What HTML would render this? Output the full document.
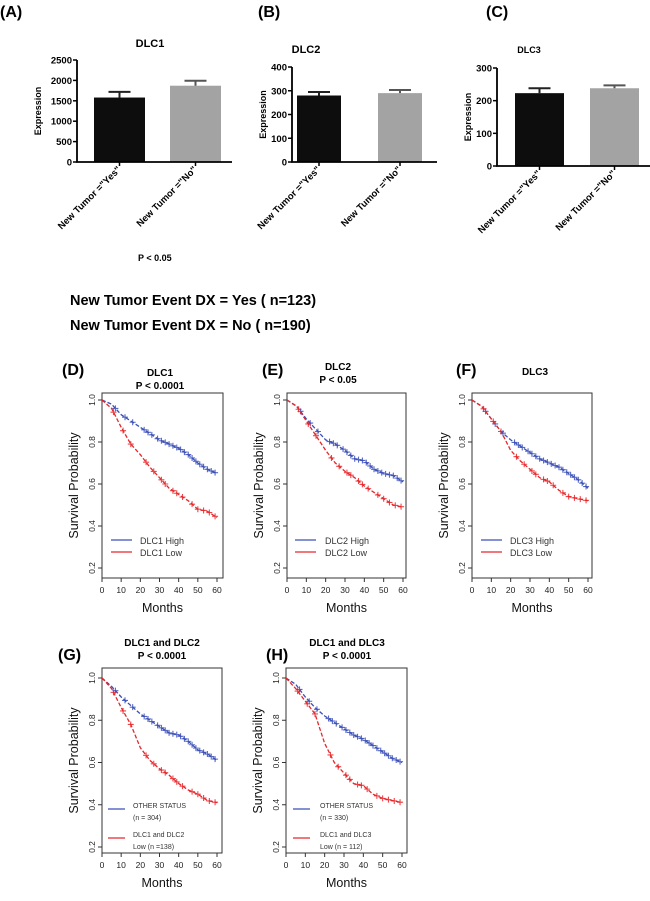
<!DOCTYPE html>
<html><head><meta charset="utf-8"><style>
body{margin:0;background:#fff}
svg{display:block;font-family:"Liberation Sans",sans-serif}
</style></head><body>
<svg id="fig" width="650" height="901" viewBox="0 0 650 901">
<g font-weight="bold" font-size="16">
<text x="0" y="17">(A)</text>
<text x="258" y="17">(B)</text>
<text x="486" y="17">(C)</text>
<text x="62" y="375">(D)</text>
<text x="262" y="375">(E)</text>
<text x="456" y="375">(F)</text>
<text x="58" y="660">(G)</text>
<text x="266" y="660">(H)</text>
</g>
<text x="138" y="261" font-size="9" font-weight="bold">P  &lt; 0.05</text>
<text x="70" y="305" font-size="14.5" font-weight="bold">New Tumor Event DX = Yes ( n=123)</text>
<text x="70" y="330" font-size="14.5" font-weight="bold">New Tumor Event DX = No  ( n=190)</text>
<g id="bars"></g><g id="km"></g>
</svg>
<script>
// Bar chart data
const barCats = ['New Tumor ="Yes"', 'New Tumor ="No"'];
const dlc1Vals = [1580, 1870];
const dlc1Errs = [140, 120];
const dlc2Vals = [280, 290];
const dlc2Errs = [15, 13];
const dlc3Vals = [223, 238];
const dlc3Errs = [15, 9];
const dlc1Ticks = [0, 500, 1000, 1500, 2000, 2500];
const dlc2Ticks = [0, 100, 200, 300, 400];
const dlc3Ticks = [0, 100, 200, 300];

// KM data (survival at months)
const kmMonths = [0,5,10,15,20,25,30,35,40,45,50,55,60];
const dHigh = [1,0.98,0.93,0.90,0.87,0.84,0.81,0.79,0.77,0.74,0.70,0.67,0.65];
const dLow  = [1,0.96,0.87,0.79,0.74,0.68,0.63,0.58,0.55,0.52,0.48,0.47,0.44];
const eHigh = [1,0.97,0.91,0.86,0.81,0.79,0.76,0.72,0.71,0.67,0.65,0.64,0.61];
const eLow  = [1,0.97,0.90,0.83,0.76,0.70,0.66,0.63,0.59,0.56,0.53,0.50,0.49];
const fHigh = [1,0.97,0.91,0.85,0.81,0.78,0.75,0.72,0.70,0.68,0.65,0.62,0.58];
const fLow  = [1,0.97,0.91,0.85,0.76,0.71,0.67,0.63,0.61,0.57,0.54,0.53,0.52];
const gHigh = [1,0.96,0.91,0.87,0.83,0.80,0.77,0.74,0.73,0.70,0.66,0.64,0.61];
const gLow  = [1,0.95,0.86,0.78,0.67,0.61,0.57,0.54,0.50,0.47,0.45,0.42,0.41];
const hHigh = [1,0.97,0.91,0.86,0.82,0.79,0.76,0.73,0.71,0.68,0.65,0.62,0.60];
const hLow  = [1,0.95,0.89,0.83,0.69,0.60,0.55,0.50,0.49,0.45,0.43,0.42,0.41];
const censorHigh = [7,12,16,22,24,26,29,31,33,35,37,39,41,43,45,47,49,51,53,55,57,59];
const censorLow = [6,11,15,23,27,31,33,37,39,42,47,50,53,56,59];
const xTicks = [0,10,20,30,40,50,60];
const yTicks = [0.2,0.4,0.6,0.8,1.0];

const NS='http://www.w3.org/2000/svg';
function mk(tag, attrs, parent, txt){const e=document.createElementNS(NS,tag);for(const k in attrs)e.setAttribute(k,attrs[k]);if(txt!==undefined)e.textContent=txt;parent.appendChild(e);return e;}

function barChart(cfg){
  const g=mk('g',{},document.getElementById('bars'));
  
  
  const max=cfg.ticks[cfg.ticks.length-1];
  const y=v=>cfg.y0-(v/max)*(cfg.y0-cfg.yTop);
  const t=mk('text',{x:cfg.tx,y:cfg.ty,'font-size':cfg.tfs,'font-weight':'bold','text-anchor':'middle'},g,cfg.title);
  
  
  const colors=['#0d0d0d','#a3a3a3'];
  cfg.vals.forEach((v,i)=>{
    const b=mk('rect',{x:cfg.bx[i],y:y(v),width:cfg.bw,height:cfg.y0-y(v),fill:colors[i]},g);
    
    
    const cx=cfg.bx[i]+cfg.bw/2, ey=y(v+cfg.errs[i]);
    const e=mk('path',{d:`M${cx},${y(v)}V${ey}M${cx-11},${ey}H${cx+11}`,stroke:colors[i]==='#0d0d0d'?'#222':'#555','stroke-width':2,fill:'none'},g);
    
    
    mk('line',{x1:cx,y1:cfg.y0,x2:cx,y2:cfg.y0+4,stroke:'#000','stroke-width':1.5},g);
    const l=mk('text',{transform:`translate(${cx+2},${cfg.y0+8}) rotate(-45)`,'font-size':9.5,'font-weight':'bold','text-anchor':'end'},g,barCats[i]);
    
    
  });
  mk('path',{d:`M${cfg.ax},${cfg.yTop}V${cfg.y0}H${cfg.axEnd}`,stroke:'#000','stroke-width':1.8,fill:'none'},g);
  cfg.ticks.forEach(v=>{
    mk('line',{x1:cfg.ax-4,y1:y(v),x2:cfg.ax,y2:y(v),stroke:'#000','stroke-width':1.5},g);
    const tl=mk('text',{x:cfg.ax-5,y:y(v)+3.5,'font-size':9.5,'font-weight':'bold','text-anchor':'end'},g,v);
    
    
  });
  const yl=mk('text',{transform:`translate(${cfg.ax-cfg.ylOff},${(cfg.y0+cfg.yTop)/2}) rotate(-90)`,'font-size':9,'font-weight':'bold','text-anchor':'middle'},g,'Expression');
  
  
}
barChart({name:'bar-chart-dlc1',title:'DLC1',tx:150,ty:47,tfs:11,vals:dlc1Vals,errs:dlc1Errs,ticks:dlc1Ticks,ax:77,axEnd:232,y0:162,yTop:60,bx:[94,170],bw:51,ylOff:36});
barChart({name:'bar-chart-dlc2',title:'DLC2',tx:306,ty:53,tfs:11,vals:dlc2Vals,errs:dlc2Errs,ticks:dlc2Ticks,ax:292,axEnd:437,y0:162,yTop:67,bx:[297,378],bw:44,ylOff:26});
barChart({name:'bar-chart-dlc3',title:'DLC3',tx:529,ty:53,tfs:9,vals:dlc3Vals,errs:dlc3Errs,ticks:dlc3Ticks,ax:497,axEnd:650,y0:166,yTop:68,bx:[515,590],bw:49,ylOff:26});

function interp(arr,m){const i=Math.min(Math.floor(m/5),11);const f=(m-i*5)/5;return arr[i]+(arr[i+1]-arr[i])*f;}
function km(cfg){
  const g=mk('g',{},document.getElementById('km'));
  
  
  const x=m=>cfg.x0+(m/60)*(cfg.x60-cfg.x0);
  const y=v=>cfg.y1-(1-v)/0.8*(cfg.y1-cfg.y02);
  cfg.titles.forEach((t,i)=>{const e=mk('text',{x:cfg.tx,y:cfg.ty+i*13,'font-size':10,'font-weight':'bold','text-anchor':'middle'},g,t);
    
    });
  mk('rect',{x:cfg.left,y:cfg.top,width:cfg.right-cfg.left,height:cfg.bottom-cfg.top,fill:'none',stroke:'#333','stroke-width':1},g);
  [[cfg.high,'#3a4fb8',censorHigh,'high'],[cfg.low,'#e8262a',censorLow,'low']].forEach(([arr,col,cens,nm])=>{
    const d=kmMonths.map((m,i)=>(i?'L':'M')+x(m).toFixed(1)+','+y(arr[i]).toFixed(1)).join('');
    const p=mk('path',{d,stroke:col,'stroke-width':1.3,'stroke-dasharray':'4,2',fill:'none'},g);
    
    
    cens.forEach(m=>{const cx=x(m),cy=y(interp(arr,m));
      const c=mk('path',{d:`M${cx-3},${cy}h6M${cx},${cy-3}v6`,stroke:col,'stroke-width':1.1,opacity:0.85},g);
      
      });
  });
  xTicks.forEach(v=>{mk('line',{x1:x(v),y1:cfg.bottom,x2:x(v),y2:cfg.bottom+4,stroke:'#333'},g);
    const t=mk('text',{x:x(v),y:cfg.bottom+15,'font-size':8.5,'text-anchor':'middle',fill:'#222'},g,v);
    
    });
  yTicks.forEach(v=>{mk('line',{x1:cfg.left-4,y1:y(v),x2:cfg.left,y2:y(v),stroke:'#333'},g);
    const t=mk('text',{transform:`translate(${cfg.left-7},${y(v)}) rotate(-90)`,'font-size':8.5,'text-anchor':'middle',fill:'#222'},g,v.toFixed(1));
    
    });
  const xt=mk('text',{x:(cfg.left+cfg.right)/2,y:cfg.bottom+34,'font-size':12.5,'text-anchor':'middle',fill:'#111'},g,'Months');
  
  
  const yt=mk('text',{transform:`translate(${cfg.left-24},${(cfg.top+cfg.bottom)/2}) rotate(-90)`,'font-size':12.5,'text-anchor':'middle',fill:'#111'},g,'Survival Probability');
  
  
  cfg.legend.forEach(([col,lines,ly])=>{
    const lg=mk('g',{},g);
    
    
    mk('line',{x1:cfg.lx,y1:ly,x2:cfg.lx+cfg.lw,y2:ly,stroke:col,'stroke-width':1.3},lg);
    lines.forEach((s,i)=>mk('text',{x:cfg.ltx,y:ly+(lines.length>1?-1+i*12:4),'font-size':cfg.lfs,fill:'#333'},lg,s));
  });
}
const B='#3a4fb8',R='#e8262a';
km({name:'km-dlc1',titles:['DLC1','P < 0.0001'],tx:160,ty:376,left:102,right:223,top:393,bottom:578,x0:102,x60:217,y1:400,y02:568,high:dHigh,low:dLow,lx:111,lw:21,ltx:140,lfs:9,legend:[[B,['DLC1 High'],540],[R,['DLC1 Low'],552]]});
km({name:'km-dlc2',titles:['DLC2','P < 0.05'],tx:338,ty:370,left:287,right:406,top:393,bottom:578,x0:287,x60:403,y1:400,y02:568,high:eHigh,low:eLow,lx:295,lw:21,ltx:325,lfs:9,legend:[[B,['DLC2 High'],540],[R,['DLC2 Low'],552]]});
km({name:'km-dlc3',titles:['DLC3'],tx:535,ty:375,left:472,right:592,top:393,bottom:578,x0:472,x60:588,y1:400,y02:568,high:fHigh,low:fLow,lx:481,lw:21,ltx:510,lfs:9,legend:[[B,['DLC3 High'],540],[R,['DLC3 Low'],552]]});
km({name:'km-dlc1-dlc2',titles:['DLC1 and DLC2','P < 0.0001'],tx:162,ty:646,left:102,right:222,top:668,bottom:853,x0:102,x60:217,y1:678,y02:847,high:gHigh,low:gLow,lx:108,lw:17,ltx:133,lfs:7,legend:[[B,['OTHER STATUS','(n = 304)'],809],[R,['DLC1 and DLC2','Low (n =138)'],838]]});
km({name:'km-dlc1-dlc3',titles:['DLC1 and DLC3','P < 0.0001'],tx:347,ty:646,left:286,right:407,top:668,bottom:853,x0:286,x60:402,y1:678,y02:847,high:hHigh,low:hLow,lx:293,lw:17,ltx:320,lfs:7,legend:[[B,['OTHER STATUS','(n = 330)'],809],[R,['DLC1 and DLC3','Low (n = 112)'],838]]});
</script>
</body></html>
